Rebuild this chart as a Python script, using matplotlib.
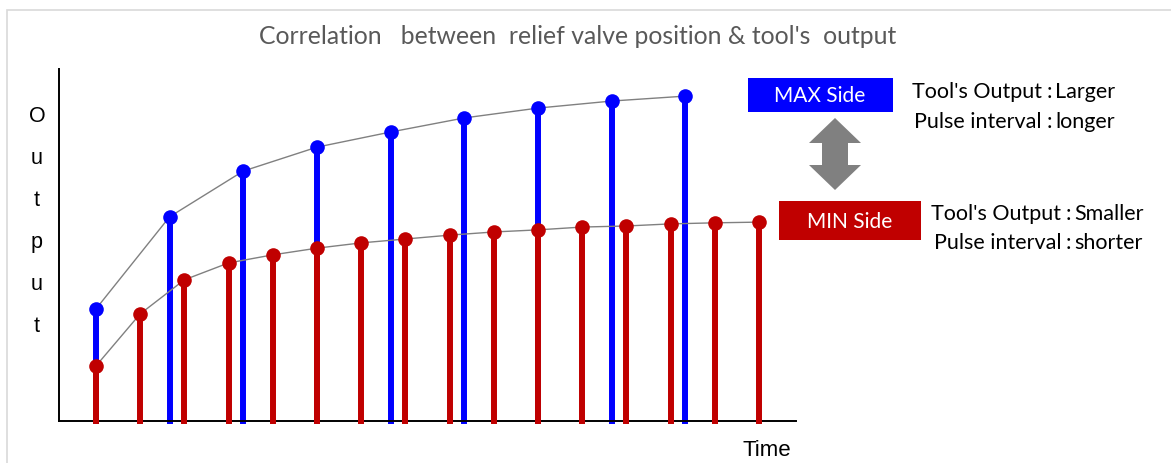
import matplotlib
matplotlib.use("Agg")
import matplotlib.pyplot as plt
from matplotlib.patches import Rectangle, Polygon

# ---- data ----
max_time = [0, 1, 2, 3, 4, 5, 6, 7, 8]
max_output = [31.8, 58.0, 71.0, 77.8, 82.1, 86.1, 88.9, 90.9, 92.3]
min_time = [0.0, 0.6, 1.2, 1.8, 2.4, 3.0, 3.6, 4.2, 4.8, 5.4, 6.0, 6.6, 7.2, 7.8, 8.4, 9.0]
min_output = [15.6, 30.4, 40.1, 44.9, 47.2, 49.1, 50.6, 51.7, 52.8, 53.7, 54.3, 55.1, 55.4, 56.0, 56.3, 56.5]

title = "Correlation   between  relief valve position & tool's  output"
ylabel_letters = list("Output")
xlabel = "Time"
max_label = "MAX Side"
min_label = "MIN Side"
max_notes = [("Tool's Output", "Larger"), ("Pulse interval", "longer")]
min_notes = [("Tool's Output", "Smaller"), ("Pulse interval", "shorter")]

BLUE = "#0000FF"
RED = "#C00000"
GRAY = "#808080"

W, H = 1171, 464
fig = plt.figure(figsize=(W / 100, H / 100), dpi=100)


def fx(px):
    return px / W


def fy(py):
    return 1 - py / H


# outer chart border (top and left edges visible)
fig.patches.append(Rectangle((fx(7), fy(480)), fx(1200), (480 - 11) / H,
                             transform=fig.transFigure, fill=False, edgecolor="#d9d9d9", lw=1.2))

ax = fig.add_axes([fx(59), fy(422), fx(796) - fx(59), fy(70) - fy(422)])
ax.set_xlim(-0.5, 9.5)
ax.set_ylim(0, 100)
for s in ["top", "right"]:
    ax.spines[s].set_visible(False)
for s in ["left", "bottom"]:
    ax.spines[s].set_color("black")
    ax.spines[s].set_linewidth(1.4)
ax.set_xticks([])
ax.set_yticks([])
ax.patch.set_alpha(0)

bl = ax.vlines(max_time, 0, max_output, colors=BLUE, lw=4.3, zorder=2, clip_on=False)
bl.set_capstyle("projecting")
rl = ax.vlines(min_time, 0, min_output, colors=RED, lw=4.3, zorder=3, clip_on=False)
rl.set_capstyle("projecting")
ax.plot(max_time, max_output, color=GRAY, lw=1.0, zorder=4)
ax.plot(min_time, min_output, color=GRAY, lw=1.0, zorder=4)
ax.plot(max_time, max_output, "o", color=BLUE, ms=10.5, mew=0, zorder=5, clip_on=False)
ax.plot(min_time, min_output, "o", color=RED, ms=10.5, mew=0, zorder=5, clip_on=False)

FONT = ["Lato", "DejaVu Sans"]
ARIAL = ["Liberation Sans", "DejaVu Sans"]

fig.text(fx(578), fy(37), title, ha="center", va="center", color="#595959", fontsize=17.8, family=FONT)

for i, ch in enumerate(ylabel_letters):
    fig.text(fx(37), fy(116 + i * 42.2), ch, ha="center", va="center", fontsize=15.5, family=ARIAL)
fig.text(fx(767), fy(451), xlabel, ha="center", va="center", fontsize=16, family=ARIAL)

# legend boxes
fig.patches.append(Rectangle((fx(748), fy(113)), fx(893) - fx(748), fy(79) - fy(113),
                             transform=fig.transFigure, facecolor=BLUE, edgecolor="none"))
fig.text(fx(820), fy(96), max_label, ha="center", va="center", color="white", fontsize=15, family=FONT)
fig.patches.append(Rectangle((fx(779), fy(241)), fx(921) - fx(779), fy(202) - fy(241),
                             transform=fig.transFigure, facecolor=RED, edgecolor="none"))
fig.text(fx(850), fy(222), min_label, ha="center", va="center", color="white", fontsize=15, family=FONT)

# double arrow
cx = 835
arrow_px = [(cx, 119), (861, 144), (848, 144), (848, 166), (861, 166), (cx, 191),
            (809, 166), (822, 166), (822, 144), (809, 144)]
fig.patches.append(Polygon([(fx(x), fy(y)) for x, y in arrow_px], closed=True,
                           transform=fig.transFigure, facecolor=GRAY, edgecolor="none"))


def notes(rows, colon_x, ys):
    for (lab, val), y in zip(rows, ys):
        fig.text(fx(colon_x - 7), fy(y), lab, ha="right", va="center", fontsize=15.5, family=FONT)
        fig.text(fx(colon_x), fy(y), ":", ha="center", va="center", fontsize=15.5, family=FONT)
        fig.text(fx(colon_x + 6), fy(y), val, ha="left", va="center", fontsize=15.5, family=FONT)


notes(max_notes, 1049, [92, 122])
notes(min_notes, 1068, [214, 243])

fig.savefig("out.png", dpi=100)
